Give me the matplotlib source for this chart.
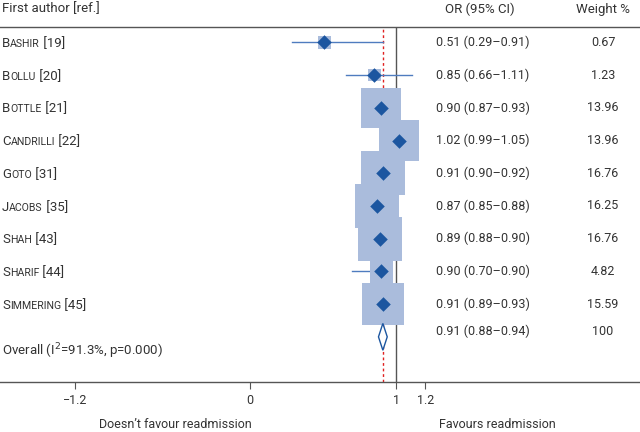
import matplotlib.pyplot as plt
import matplotlib.transforms as mtransforms
from matplotlib.patches import Polygon

plt.rcParams['font.family'] = ['Roboto', 'DejaVu Sans']

# data
authors = ["Bashir", "Bollu", "Bottle", "Candrilli", "Goto", "Jacobs", "Shah", "Sharif", "Simmering"]
refs = [19, 20, 21, 22, 31, 35, 43, 44, 45]
orr = [0.51, 0.85, 0.90, 1.02, 0.91, 0.87, 0.89, 0.90, 0.91]
lo = [0.29, 0.66, 0.87, 0.99, 0.90, 0.85, 0.88, 0.70, 0.89]
hi = [0.91, 1.11, 0.93, 1.05, 0.92, 0.88, 0.90, 0.90, 0.93]
weights = [0.67, 1.23, 13.96, 13.96, 16.76, 16.25, 16.76, 4.82, 15.59]
pooled = 0.91
pooled_lo = 0.88
pooled_hi = 0.94
overall_label = "Overall (I$^2$=91.3%, p=0.000)"
xticks = [-1.2, 0, 1, 1.2]
xticklabels = ["\u22121.2", "0", "1", "1.2"]

txt = "#333333"
sq_col = "#aabcdc"
dia_col = "#1c56a0"
ci_col = "#4f7cbf"

fig = plt.figure(figsize=(6.4, 4.32), dpi=100)
ax = fig.add_axes([0, 50 / 432, 1, 355 / 432])
ax.set_xlim(-1.712, 2.671)
ax.set_ylim(10.38, -0.47)

for s in ["left", "right"]:
    ax.spines[s].set_visible(False)
for s in ["top", "bottom"]:
    ax.spines[s].set_color("#555555")
    ax.spines[s].set_linewidth(1.0)
ax.set_yticks([])
ax.set_xticks(xticks)
ax.set_xticklabels(xticklabels, color=txt, fontsize=9)
ax.tick_params(axis="x", direction="out", length=5, color="#555555", pad=4)

# reference lines
ax.axvline(1, color="#555555", lw=1.0, zorder=1)
ax.axvline(pooled, color="#e02020", lw=1.0, ls=(0, (2, 2)), zorder=1)

rows = list(range(len(authors)))
for i in rows:
    ax.plot([lo[i], hi[i]], [i, i], color=ci_col, lw=1.0, zorder=1.5)
sizes = [max(w * 60, 85) for w in weights]
ax.scatter(orr, rows, s=sizes, marker="s", color=sq_col, lw=0, zorder=2)
ax.scatter(orr, rows, s=55, marker="D", color=dia_col, lw=0, zorder=3)

oy = len(authors)
h = 0.41
ax.add_patch(Polygon([[pooled_lo, oy], [pooled, oy - h], [pooled_hi, oy], [pooled, oy + h]],
                     closed=True, facecolor="white", edgecolor=dia_col, lw=1.0, zorder=3))

# text columns
blend = mtransforms.blended_transform_factory(ax.transAxes, ax.transData)
fig.canvas.draw()
renderer = fig.canvas.get_renderer()


def smallcaps(y, name, ref):
    fs = 9.5
    x0 = 2 / 640
    t = ax.text(x0, y, name[0], transform=blend, fontsize=fs, color=txt, va="baseline")
    w = t.get_window_extent(renderer).width
    tr = mtransforms.offset_copy(blend, fig=fig, x=w, y=0, units="dots")
    t2 = ax.text(x0, y, name[1:].upper(), transform=tr, fontsize=fs * 0.8, color=txt, va="baseline")
    w2 = t2.get_window_extent(renderer).width
    tr2 = mtransforms.offset_copy(blend, fig=fig, x=w + w2, y=0, units="dots")
    ax.text(x0, y, " [%d]" % ref, transform=tr2, fontsize=fs, color=txt, va="baseline")


for i in rows:
    smallcaps(i + 0.14, authors[i], refs[i])
    ax.text(436 / 640, i, "%.2f (%.2f\u2013%.2f)" % (orr[i], lo[i], hi[i]), transform=blend,
            fontsize=9, color=txt, va="center")
    ax.text(603 / 640, i, "%.2f" % weights[i], transform=blend, fontsize=9, color=txt,
            va="center", ha="center")

ax.text(436 / 640, oy - 0.17, "%.2f (%.2f\u2013%.2f)" % (pooled, pooled_lo, pooled_hi),
        transform=blend, fontsize=9, color=txt, va="center")
ax.text(603 / 640, oy - 0.17, "100", transform=blend, fontsize=9, color=txt, va="center", ha="center")
ax.text(2 / 640, oy + 0.43, overall_label, transform=blend, fontsize=9.5, color=txt, va="center")

# header
fig.text(2 / 640, 1 - 9 / 432, "First author [ref.]", fontsize=9.5, color=txt, va="center")
fig.text(445 / 640, 1 - 9 / 432, "OR (95% CI)", fontsize=9.5, color=txt, va="center")
fig.text(603 / 640, 1 - 9 / 432, "Weight %", fontsize=9.5, color=txt, va="center", ha="center")

# footer
fig.text(175 / 640, 1 - 424 / 432, "Doesn\u2019t favour readmission", fontsize=9, color=txt,
         va="center", ha="center")
fig.text(497 / 640, 1 - 424 / 432, "Favours readmission", fontsize=9, color=txt,
         va="center", ha="center")

fig.savefig("out.png", dpi=100)
